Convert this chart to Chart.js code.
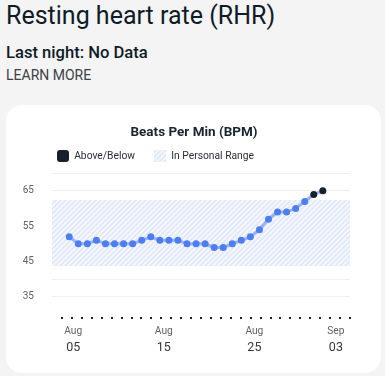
<!DOCTYPE html>
<html>
<head>
<meta charset="utf-8">
<script src="https://cdn.jsdelivr.net/npm/chart.js@4.4.1/dist/chart.umd.min.js"></script>
<style>
	html, body { margin: 0; padding: 0; }
	body { width: 385px; height: 376px; background: #f4f4f4; font-family: Roboto, sans-serif; position: relative; overflow: hidden; }
	#rhr_title { position: absolute; left: 6px; top: 1px; font-size: 25px; color: #0f1c28; white-space: nowrap; }
	#rhr_last { position: absolute; left: 6px; top: 43px; font-size: 16.6px; font-weight: 500; color: #0f1c28; white-space: nowrap; }
	#rhr_learn { position: absolute; left: 6px; top: 67px; font-size: 14px; color: #3d4146; white-space: nowrap; }
	.card { position: absolute; left: 6px; top: 105px; width: 375px; height: 268px; background: #fff; border-radius: 16px; }
	.card canvas { display: block; }
</style>
</head>
<body>
<div id="rhr_title">Resting heart rate (RHR)</div>
<div id="rhr_last">Last night: No Data</div>
<div id="rhr_learn">LEARN MORE</div>
<div class="card"><canvas id="rhr_chart" width="375" height="268"></canvas></div>

<script>
"use strict";

// one reading per night, Aug 05 .. Sep 02
const days = ["Aug 05", "Aug 06", "Aug 07", "Aug 08", "Aug 09", "Aug 10", "Aug 11", "Aug 12", "Aug 13", "Aug 14",
	"Aug 15", "Aug 16", "Aug 17", "Aug 18", "Aug 19", "Aug 20", "Aug 21", "Aug 22", "Aug 23", "Aug 24",
	"Aug 25", "Aug 26", "Aug 27", "Aug 28", "Aug 29", "Aug 30", "Aug 31", "Sep 01", "Sep 02"];
const bpm = [52, 50, 50, 51, 50, 50, 50, 50, 51, 52,
	51, 51, 51, 50, 50, 50, 49, 49, 50, 51,
	52, 54, 57, 59, 59, 60, 62, 64, 65];

// personal range band
const rangeLow = 43.7;
const rangeHigh = 62.4;

// axis ticks
const tickIndex = [0, 10, 20, 29];
const tickMonths = ["Aug", "Aug", "Aug", "Sep"];
const tickDays = ["05", "15", "25", "03"];
const yTicks = [35, 40, 45, 50, 55, 60, 65, 70];
const yLabels = [35, 45, 55, 65];

const COL = { dark: "#16212c", point: "#4d7ef0", line: "#97b3f4", text: "#2a2f36", grey: "#5f6368" };

function hatch() {
	const c = document.createElement("canvas");
	c.width = 5; c.height = 5;
	const g = c.getContext("2d");
	g.fillStyle = "#f4f6fd";
	g.fillRect(0, 0, 5, 5);
	g.strokeStyle = "#d9e2f8";
	g.lineWidth = 1.2;
	g.beginPath();
	g.moveTo(-1, 6); g.lineTo(6, -1);
	g.moveTo(-1, 1); g.lineTo(1, -1);
	g.moveTo(4, 6); g.lineTo(6, 4);
	g.stroke();
	return g.createPattern(c, "repeat");
}
const gHatch = hatch();

const rangeBand = {
	id: "rangeBand",
	beforeDatasetsDraw: function (chart) {
		const a = chart.chartArea, y = chart.scales.y, ctx = chart.ctx;
		const top = y.getPixelForValue(rangeHigh), bottom = y.getPixelForValue(rangeLow);
		ctx.save();
		ctx.fillStyle = gHatch;
		ctx.fillRect(a.left - 10, top, a.right - a.left + 10, bottom - top);
		ctx.restore();
	}
};

function outOfRange(v) { return v > rangeHigh || v < rangeLow; }

function fixedTicks(values) {
	return function (s) { s.ticks = values.map(function (v) { return { value: v }; }); };
}

new Chart(document.getElementById("rhr_chart"), {
	type: "line",
	data: {
		datasets: [{
			label: "Above/Below",
			xAxisID: "x", yAxisID: "y",
			data: bpm.map(function (v, i) { return { x: i, y: v }; }),
			borderColor: COL.line, borderWidth: 3, tension: 0,
			pointRadius: 3.5, pointHoverRadius: 3.5, pointBorderWidth: 0,
			pointBackgroundColor: function (c) { return outOfRange(bpm[c.dataIndex]) ? COL.dark : COL.point; }
		}]
	},
	options: {
		responsive: false, animation: false,
		layout: { padding: { left: 32, right: 31, top: 5, bottom: 10 } },
		plugins: {
			title: {
				display: true, text: "Beats Per Min (BPM)", color: "#1a2530",
				font: { family: "Roboto", size: 13.5, weight: "bold" },
				padding: { top: 15, bottom: -10.2 }
			},
			legend: {
				display: true, align: "start",
				labels: {
					boxWidth: 12, boxHeight: 12, padding: 19, color: COL.text,
					font: { family: "Roboto", size: 10.3 },
					useBorderRadius: true, borderRadius: 3,
					generateLabels: function () {
						return [
							{ text: "Above/Below", fillStyle: COL.dark, strokeStyle: COL.dark, lineWidth: 0, fontColor: COL.text, borderRadius: 3 },
							{ text: "In Personal Range", fillStyle: gHatch, strokeStyle: "rgba(0,0,0,0)", lineWidth: 0, fontColor: COL.text, borderRadius: 0 }
						];
					}
				}
			},
			tooltip: { enabled: false }
		},
		scales: {
			// dotted baseline: one small tick mark per step
			dots: {
				axis: "x", type: "linear", position: "bottom", weight: 0, min: 0, max: 29,
				grid: { display: true, drawOnChartArea: false, drawTicks: true, tickLength: 2, lineWidth: 2, color: COL.dark },
				border: { display: false },
				ticks: { display: false, stepSize: 1, autoSkip: false },
				afterFit: function (s) { s.height = 4; }
			},
			x: {
				type: "linear", position: "bottom", weight: 1, min: -0.8, max: 31,
				grid: { display: false, drawTicks: false },
				border: { display: false },
				afterBuildTicks: fixedTicks(tickIndex),
				afterFit: function (s) { s.height = 19; },
				ticks: {
					autoSkip: false, maxRotation: 0, padding: 4.4, labelOffset: 4, color: COL.grey,
					font: { family: "Roboto", size: 10.2 },
					callback: function (v) { return tickMonths[tickIndex.indexOf(v)]; }
				}
			},
			days: {
				axis: "x", type: "linear", position: "bottom", weight: 2, min: -0.8, max: 31,
				grid: { display: false, drawTicks: false },
				border: { display: false },
				afterBuildTicks: fixedTicks(tickIndex),
				afterFit: function (s) { s.height = 23; },
				ticks: {
					autoSkip: false, maxRotation: 0, padding: 0, labelOffset: 4, color: "#33373c",
					font: { family: "Roboto", size: 12.5 },
					callback: function (v) { return tickDays[tickIndex.indexOf(v)]; }
				}
			},
			y: {
				min: 29.3, max: 70.34,
				grid: { color: "#efefef", lineWidth: 1, tickLength: 10, drawTicks: true },
				border: { display: false },
				afterBuildTicks: fixedTicks(yTicks),
				afterFit: function (s) { s.width = 24; },
				ticks: {
					mirror: true, padding: -39.3, color: COL.grey,
					font: { family: "Roboto", size: 10 },
					callback: function (v) { return yLabels.indexOf(v) >= 0 ? String(v) : ""; }
				}
			}
		}
	},
	plugins: [rangeBand]
});
</script>
</body>
</html>
